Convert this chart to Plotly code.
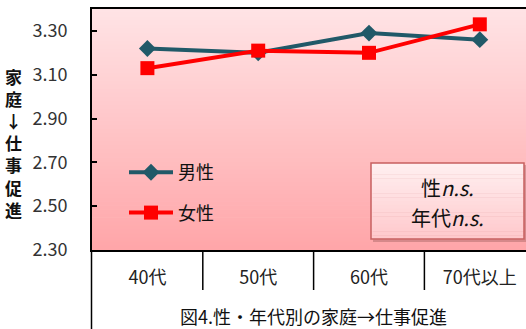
import plotly.graph_objects as go

# Data
ages = ["40代", "50代", "60代", "70代以上"]
male = [3.22, 3.20, 3.29, 3.26]
female = [3.13, 3.21, 3.20, 3.33]
y_ticks = [2.30, 2.50, 2.70, 2.90, 3.10, 3.30]
y_title_chars = ["家", "庭", "↓", "仕", "事", "促", "進"]
caption = "図4.性・年代別の家庭→仕事促進"
note_lines = ["性<i>n.s.</i>", "年代<i>n.s.</i>"]

# Layout geometry (pixels)
W, H = 526, 329
L, R, T, B = 92, 0, 9, 79
PW, PH = W - L - R, H - T - B
FONT = "Noto Sans CJK JP"


def px_x(px):
    return (px - L) / PW


def px_y(py):
    return (H - B - py) / PH


def blend(c0, c1, t):
    return "rgb(%d,%d,%d)" % tuple(round(a + (b - a) * t) for a, b in zip(c0, c1))


fig = go.Figure()
fig.add_trace(go.Scatter(
    x=ages, y=male, name="男性", mode="lines+markers", legendgroup="m",
    line=dict(color="#215968", width=4),
    marker=dict(symbol="diamond", size=13, color="#215968"),
))
fig.add_trace(go.Scatter(
    x=ages, y=female, name="女性", mode="lines+markers", legendgroup="f",
    line=dict(color="#FF0000", width=4),
    marker=dict(symbol="square", size=14, color="#FF0000"),
))

shapes = []
# vertical pink gradient behind the plot area
top_c, bot_c = (255, 228, 230), (255, 165, 168)
n = 60
for i in range(n):
    shapes.append(dict(
        type="rect", xref="x domain", yref="y domain", layer="below",
        x0=0, x1=1, y0=1 - (i + 1) / n, y1=1 - i / n + 0.002,
        fillcolor=blend(top_c, bot_c, (i + 0.5) / n), line=dict(width=0),
    ))

# category dividers below the axis and the long left rule
for k in range(1, len(ages)):
    shapes.append(dict(type="line", xref="x", yref="paper", x0=k - 0.5, x1=k - 0.5,
                       y0=0, y1=px_y(290), line=dict(color="black", width=1.5)))
shapes.append(dict(type="line", xref="paper", yref="paper", x0=px_x(91.5), x1=px_x(91.5),
                   y0=0, y1=px_y(H), line=dict(color="black", width=1.5)))

# significance note box: shadow, gradient fill, border
bx0, bx1, by0, by1 = 371, 524, 163, 239
shapes.append(dict(type="rect", xref="paper", yref="paper",
                   x0=px_x(bx0 + 2), x1=px_x(bx1 + 3), y0=px_y(by1 + 3), y1=px_y(by0 + 2),
                   fillcolor="rgba(90,40,40,0.25)", line=dict(width=0)))
box_top, box_bot = (255, 240, 241), (255, 200, 203)
m = 20
for i in range(m):
    ya = by0 + (by1 - by0) * i / m
    yb = by0 + (by1 - by0) * (i + 1) / m
    shapes.append(dict(type="rect", xref="paper", yref="paper",
                       x0=px_x(bx0), x1=px_x(bx1), y0=px_y(yb + 0.3), y1=px_y(ya),
                       fillcolor=blend(box_top, box_bot, (i + 0.5) / m), line=dict(width=0)))
shapes.append(dict(type="rect", xref="paper", yref="paper",
                   x0=px_x(bx0), x1=px_x(bx1), y0=px_y(by1), y1=px_y(by0),
                   fillcolor="rgba(0,0,0,0)", line=dict(color="#C86060", width=1.5)))

annotations = [
    dict(text=note_lines[0], xref="paper", yref="paper", x=px_x(447), y=px_y(187),
         xanchor="center", yanchor="middle", showarrow=False,
         font=dict(family=FONT, size=20, color="#111")),
    dict(text=note_lines[1], xref="paper", yref="paper", x=px_x(447), y=px_y(217),
         xanchor="center", yanchor="middle", showarrow=False,
         font=dict(family=FONT, size=20, color="#111")),
    dict(text=caption, xref="paper", yref="paper", x=px_x(313), y=px_y(316),
         xanchor="center", yanchor="middle", showarrow=False,
         font=dict(family=FONT, size=18, color="#111")),
    dict(text="<b>" + "<br>".join(y_title_chars) + "</b>", xref="paper", yref="paper",
         x=px_x(13), y=px_y(143), xanchor="center", yanchor="middle",
         showarrow=False, align="center",
         font=dict(family=FONT, size=17, color="#111")),
]

fig.update_layout(
    width=W, height=H,
    margin=dict(l=L, r=R, t=T, b=B),
    paper_bgcolor="white",
    plot_bgcolor="rgb(255,200,202)",
    font=dict(family=FONT, color="#222"),
    shapes=shapes,
    annotations=annotations,
    showlegend=True,
    legend=dict(x=px_x(124), y=px_y(154), xanchor="left", yanchor="top",
                bgcolor="rgba(0,0,0,0)", font=dict(family=FONT, size=18, color="#111"),
                itemwidth=44, tracegroupgap=14),
    xaxis=dict(
        type="category", categoryorder="array", categoryarray=ages,
        range=[-0.5, 3.417], showgrid=False, zeroline=False,
        showline=True, linecolor="black", linewidth=2, mirror=True,
        ticks="", tickfont=dict(family=FONT, size=18, color="#222"),
        ticklabelstandoff=10,
    ),
    yaxis=dict(
        range=[2.30, 3.40], tickvals=y_ticks, tickformat=".2f",
        showgrid=False, zeroline=False,
        showline=True, linecolor="black", linewidth=2,
        ticks="inside", ticklen=5, tickcolor="black", tickwidth=1.5,
        tickfont=dict(family=FONT, size=18, color="#333"),
        ticklabelstandoff=19,
    ),
)

fig.write_html("out.html")
